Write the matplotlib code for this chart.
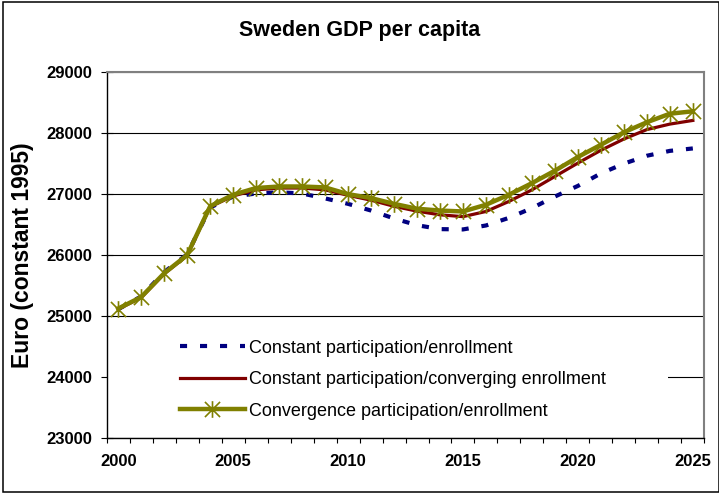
import numpy as np
import matplotlib
matplotlib.use("Agg")
import matplotlib.pyplot as plt
from matplotlib.path import Path
from matplotlib.patches import Rectangle
from matplotlib.ticker import MultipleLocator, FixedLocator

plt.rcParams["font.family"] = ["Liberation Sans", "DejaVu Sans"]

years = np.arange(2000, 2026)

constant_part = [25110, 25320, 25720, 26010, 26780, 26960, 27010, 27030, 27010,
                 26930, 26840, 26730, 26600, 26490, 26425, 26420, 26485, 26610,
                 26770, 26960, 27135, 27340, 27500, 27630, 27710, 27750]
converging_enrol = [25110, 25300, 25690, 25990, 26790, 26970, 27070, 27100, 27100,
                    27070, 26980, 26900, 26800, 26720, 26660, 26630, 26715, 26880,
                    27070, 27290, 27510, 27720, 27905, 28060, 28150, 28210]
convergence = [25120, 25310, 25700, 26000, 26800, 26990, 27100, 27125, 27125,
               27110, 27000, 26935, 26840, 26760, 26730, 26715, 26825, 26990,
               27180, 27385, 27610, 27810, 28015, 28180, 28320, 28360]

labels = ["Constant participation/enrollment",
          "Constant participation/converging enrollment",
          "Convergence participation/enrollment"]

# Excel style asterisk: an X with a vertical bar
star = Path([(-1, -1), (1, 1), (-1, 1), (1, -1), (0, -1.1), (0, 1.1)],
            [Path.MOVETO, Path.LINETO, Path.MOVETO, Path.LINETO,
             Path.MOVETO, Path.LINETO])

fig = plt.figure(figsize=(7.19, 4.93), dpi=100)
ax = fig.add_axes([0.1484, 0.1122, 0.8312, 0.7411])

ax.plot(years, constant_part, color="#000080", lw=3.0,
        linestyle=(0, (1.7, 3.1)), dash_capstyle="butt", label=labels[0], zorder=3)
ax.plot(years, converging_enrol, color="#800000", lw=2.3, label=labels[1], zorder=4)
ax.plot(years, convergence, color="#808000", lw=3.2, marker=star, markersize=12,
        markeredgewidth=1.2, markerfacecolor="none", markeredgecolor="#808000",
        label=labels[2], zorder=5)

ax.set_xlim(1999.5, 2025.5)
ax.set_ylim(23000, 29000)
ax.xaxis.set_major_locator(FixedLocator([2000, 2005, 2010, 2015, 2020, 2025]))
ax.xaxis.set_minor_locator(FixedLocator(np.arange(1999.5, 2026, 1.0)))
ax.yaxis.set_major_locator(MultipleLocator(1000))
ax.tick_params(axis="x", which="major", length=0, pad=12, labelsize=12)
ax.tick_params(axis="x", which="minor", direction="out", length=3.5, width=0.8)
ax.tick_params(axis="y", direction="inout", length=8, width=0.8, pad=6.5, labelsize=12)
for lab in ax.get_xticklabels() + ax.get_yticklabels():
    lab.set_fontweight("bold")

ax.grid(axis="y", color="black", lw=0.8, zorder=1)
ax.set_axisbelow(True)
for side in ["left", "bottom"]:
    ax.spines[side].set_color("black")
    ax.spines[side].set_linewidth(1.0)
for side in ["top", "right"]:
    ax.spines[side].set_color("#808080")
    ax.spines[side].set_linewidth(1.5)

# white box behind legend hides the 24000 gridline
ax.add_patch(Rectangle((0.003, 0.1), 0.936, 0.205, transform=ax.transAxes,
                       facecolor="white", edgecolor="none", zorder=2))
ax.legend(loc="upper left", bbox_to_anchor=(0.122, 0.268), frameon=False,
          fontsize=13, handlelength=3.6, handletextpad=0.25, labelspacing=0.8,
          borderaxespad=0, borderpad=0)

fig.text(0.5, 0.939, "Sweden GDP per capita", ha="center", va="center",
         fontsize=15.5, fontweight="bold")
fig.text(0.0306, 0.482, "Euro (constant 1995)", ha="center", va="center",
         rotation=90, fontsize=16.5, fontweight="bold")

fig.add_artist(Rectangle((3 / 719, 1.5 / 493), 716 / 719, 490 / 493,
                         transform=fig.transFigure, facecolor="none",
                         edgecolor="black", lw=1.1))

fig.savefig("out.png", dpi=100)
